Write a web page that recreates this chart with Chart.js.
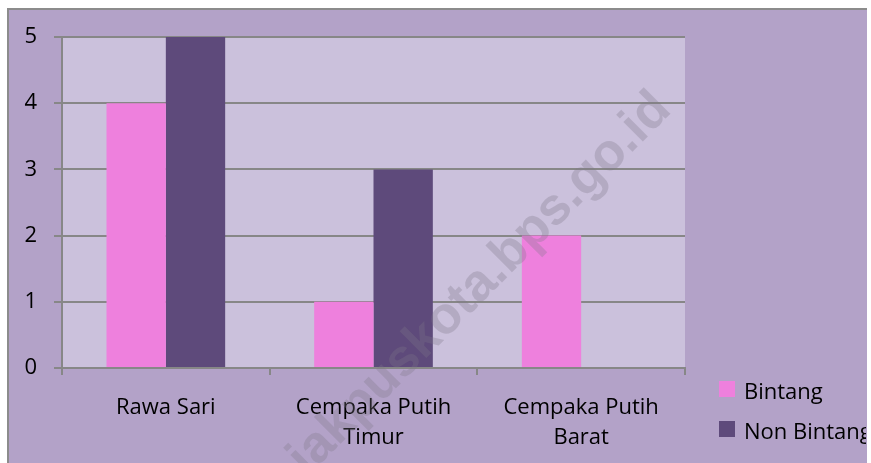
<!DOCTYPE html>
<html><head><meta charset="utf-8">
<script src="https://cdn.jsdelivr.net/npm/chart.js@4.4.0/dist/chart.umd.min.js"></script>
<style>html,body{margin:0;padding:0;overflow:hidden;background:#fff}canvas{display:block}</style>
</head><body><canvas id="c" width="871" height="463"></canvas>
<script>
const categories = [["Rawa Sari"], ["Cempaka Putih", "Timur"], ["Cempaka Putih", "Barat"]];
const seriesNames = ["Bintang", "Non Bintang"];
const bintang = [4, 1, 2];
const nonBintang = [5, 3, 0];
const yMin = 0, yMax = 5, yStep = 1;
const watermarkText = "jakpuskota.bps.go.id";

const COL_PINK = '#ee80dd', COL_PURPLE = '#5e4a7b';
const COL_OUTER = '#b3a2c8', COL_PLOT = '#cbc1dc', COL_GRID = '#878787';
const FONT = "'Open Sans'";

const bgPlugin = {
  id: 'bg',
  beforeDraw(chart) {
    const ctx = chart.ctx, a = chart.chartArea;
    ctx.save();
    ctx.fillStyle = '#ffffff';
    ctx.fillRect(0, 0, chart.width, chart.height);
    ctx.fillStyle = COL_OUTER;
    ctx.fillRect(8, 8, 859, 470);
    ctx.strokeStyle = '#8c8c8c';
    ctx.lineWidth = 2;
    ctx.beginPath();
    ctx.moveTo(8, 480); ctx.lineTo(8, 9); ctx.lineTo(867, 9);
    ctx.stroke();
    ctx.fillStyle = COL_PLOT;
    ctx.fillRect(a.left, a.top, a.right - a.left, a.bottom - a.top);
    ctx.restore();
  }
};

const watermarkPlugin = {
  id: 'wm',
  afterDatasetsDraw(chart) {
    const ctx = chart.ctx;
    ctx.save();
    ctx.translate(480, 284);
    ctx.rotate(-45 * Math.PI / 180);
    ctx.font = "bold 52px 'Liberation Sans'";
    ctx.textAlign = 'center';
    ctx.textBaseline = 'middle';
    ctx.fillStyle = 'rgba(125,120,135,0.3)';
    ctx.fillText(watermarkText, 0, 0);
    ctx.restore();
  }
};

const legendPlugin = {
  id: 'customLegend',
  afterDraw(chart) {
    const ctx = chart.ctx;
    ctx.save();
    ctx.beginPath();
    ctx.rect(0, 0, 866, chart.height);
    ctx.clip();
    ctx.font = "22px " + FONT;
    ctx.textBaseline = 'alphabetic';
    ctx.textAlign = 'left';
    chart.data.datasets.forEach((ds, i) => {
      const y = 381 + i * 40;
      ctx.fillStyle = ds.backgroundColor;
      ctx.fillRect(719, y, 16, 16);
      ctx.fillStyle = '#000';
      ctx.fillText(ds.label, 744, y + 18);
    });
    ctx.restore();
  }
};

new Chart(document.getElementById('c'), {
  type: 'bar',
  data: {
    labels: categories,
    datasets: [
      { label: seriesNames[0], data: bintang, backgroundColor: COL_PINK },
      { label: seriesNames[1], data: nonBintang, backgroundColor: COL_PURPLE }
    ]
  },
  options: {
    responsive: false,
    animation: false,
    devicePixelRatio: 1,
    layout: { padding: { left: 0, right: 186, top: 37, bottom: 0 } },
    datasets: { bar: { categoryPercentage: 2 / 3.5, barPercentage: 1, borderWidth: 0 } },
    plugins: { legend: { display: false }, tooltip: { enabled: false } },
    scales: {
      x: {
        grid: { offset: true, drawOnChartArea: false, drawTicks: true, tickLength: 7, color: COL_GRID, lineWidth: 2 },
        border: { color: COL_GRID, width: 2 },
        ticks: { color: '#000', font: { family: FONT, size: 22, lineHeight: 1.36 }, padding: 18, maxRotation: 0 },
        afterFit(s) { s.height = 95; }
      },
      y: {
        min: yMin, max: yMax,
        grid: { color: COL_GRID, lineWidth: 2, tickLength: 8 },
        border: { color: COL_GRID, width: 2 },
        ticks: { stepSize: yStep, color: '#000', font: { family: FONT, size: 22 }, padding: 17 },
        afterFit(s) { s.width = 62; }
      }
    }
  },
  plugins: [bgPlugin, watermarkPlugin, legendPlugin]
});
</script>
</body></html>
